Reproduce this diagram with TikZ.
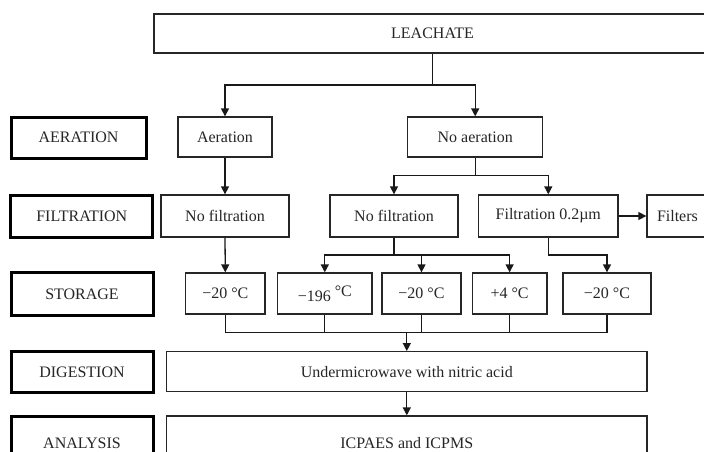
\documentclass[tikz,border=0pt]{standalone}
\usepackage{fontspec}
\setmainfont{Liberation Serif}
\usetikzlibrary{arrows.meta}
\begin{document}
\begin{tikzpicture}[x=1pt,y=-1pt,
  box/.style={draw=black!85,line width=1.3pt,inner sep=0pt,font=\fontsize{16}{18}\selectfont,text=black!85},
  lbl/.style={draw=black,line width=3pt,inner sep=0pt,font=\fontsize{16}{18}\selectfont,text=black!85},
  arr/.style={-{Triangle[width=8pt,length=8pt]},line width=1.3pt,draw=black!90},
  ln/.style={line width=1.3pt,draw=black!90}]
\useasboundingbox (0,0) rectangle (704,452);
\clip (0,0) rectangle (704,452);
\fill[white] (0,0) rectangle (704,452);
% top
\node[box,minimum width=557pt,minimum height=39pt] (leach) at (432.5,33.5) {LEACHATE};
% labels
\node[lbl,minimum width=135pt,minimum height=41pt] (lAer) at (78.5,137.5) {AERATION};
\node[lbl,minimum width=141.7pt,minimum height=42pt] (lFil) at (81.8,216) {FILTRATION};
\node[lbl,minimum width=142pt,minimum height=42.6pt] (lSto) at (82,294) {STORAGE};
\node[lbl,minimum width=142pt,minimum height=41pt] (lDig) at (82,372.2) {DIGESTION};
\node[lbl,minimum width=142pt,minimum height=54pt] (lAna) at (82,443) {ANALYSIS};
% aeration row
\node[box,minimum width=94pt,minimum height=40pt] (aer) at (225,137) {Aeration};
\node[box,minimum width=135pt,minimum height=40pt] (noaer) at (475.2,137) {No aeration};
% filtration row
\node[box,minimum width=128pt,minimum height=42pt] (nf1) at (225,216) {No filtration};
\node[box,minimum width=128pt,minimum height=42pt] (nf2) at (394,216) {No filtration};
\node[box,minimum width=139.3pt,minimum height=42pt] (filt) at (548.3,216) {Filtration 0.2µm};
\node[box,minimum width=62pt,minimum height=42pt,text width=62pt,align=left] (filters) at (678,216) {\hspace*{10pt}Filters};
% storage row
\node[box,minimum width=79.3pt,minimum height=41pt] (s1) at (225.3,293.5) {−20 °C};
\node[box,minimum width=94.3pt,minimum height=41pt] (s2) at (324.8,293.5) {−196 \raisebox{5pt}{°C}};
\node[box,minimum width=79pt,minimum height=41pt] (s3) at (421.5,293.5) {−20 °C};
\node[box,minimum width=74.7pt,minimum height=41pt] (s4) at (509.6,293.5) {+4 °C};
\node[box,minimum width=88pt,minimum height=41pt] (s5) at (607,293.5) {−20 °C};
% digestion / analysis
\node[box,minimum width=480.3pt,minimum height=40pt] (dig) at (406.8,371.7) {Undermicrowave with nitric acid};
\node[box,minimum width=480.3pt,minimum height=54pt] (ana) at (406.8,443) {ICPAES and ICPMS};
% connectors
\coordinate (j1) at (432.5,85);
\draw[ln] (leach.south) -- (j1);
\draw[arr] (j1) -| (aer.north);
\draw[arr] (j1) -| (noaer.north);
\draw[arr] (aer.south) -- (nf1.north);
\coordinate (j2) at (475.2,175.7);
\draw[ln] (noaer.south) -- (j2);
\draw[arr] (j2) -| (nf2.north);
\draw[arr] (j2) -| (filt.north);
\draw[arr] (filt.east) -- (filters.west);
\draw[arr] (nf1.south) -- (s1.north);
\coordinate (j3) at (394,255);
\draw[ln] (nf2.south) -- (j3);
\draw[arr] (j3) -| (s2.north);
\draw[arr] (j3) -| (s3.north);
\draw[arr] (j3) -| (s4.north);
\coordinate (j4) at (548.3,255);
\draw[ln] (filt.south) -- (j4);
\draw[arr] (j4) -| (s5.north);
\coordinate (m) at (406.8,332.7);
\draw[ln] (s1.south) |- (m);
\draw[ln] (s2.south) |- (m);
\draw[ln] (s3.south) |- (m);
\draw[ln] (s4.south) |- (m);
\draw[ln] (s5.south) |- (m);
\draw[arr] (m) -- (dig.north);
\draw[arr] (dig.south) -- (ana.north);
\end{tikzpicture}
\end{document}
